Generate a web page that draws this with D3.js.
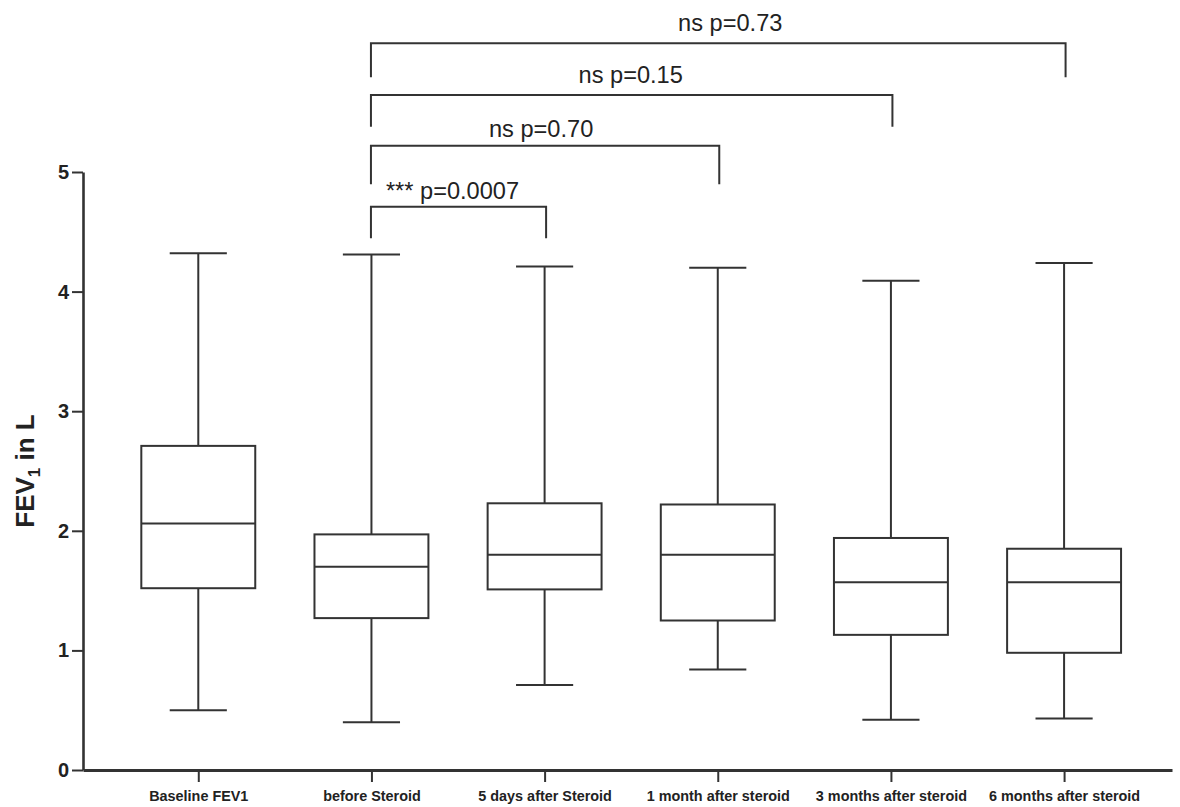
<!DOCTYPE html>
<html>
<head>
<meta charset="utf-8">
<script src="https://cdn.jsdelivr.net/npm/d3@7"></script>
<style>
  html, body { margin: 0; padding: 0; background: #fff; }
  svg { display: block; font-family: "Liberation Sans", Arial, sans-serif; }
</style>
</head>
<body>
<svg id="chart" width="1180" height="807"></svg>
<script>
// FEV1 (litres) at each time point: whisker min, Q1, median, Q3, whisker max
const groups  = ["Baseline FEV1", "before Steroid", "5 days after Steroid",
                 "1 month after steroid", "3 months after steroid", "6 months after steroid"];
const whiskerLow  = [0.50, 0.40, 0.71, 0.84, 0.42, 0.43];
const quartile1   = [1.52, 1.27, 1.51, 1.25, 1.13, 0.98];
const medians     = [2.06, 1.70, 1.80, 1.80, 1.57, 1.57];
const quartile3   = [2.71, 1.97, 2.23, 2.22, 1.94, 1.85];
const whiskerHigh = [4.32, 4.31, 4.21, 4.20, 4.09, 4.24];
const yTicks = [0, 1, 2, 3, 4, 5];

// pairwise comparisons against "before Steroid"
const compareFrom = ["before Steroid", "before Steroid", "before Steroid", "before Steroid"];
const compareTo   = ["5 days after Steroid", "1 month after steroid", "3 months after steroid", "6 months after steroid"];
const compareText = ["*** p=0.0007", "ns p=0.70", "ns p=0.15", "ns p=0.73"];

const boxes = groups.map((g, i) => ({
  group: g, lo: whiskerLow[i], q1: quartile1[i], med: medians[i], q3: quartile3[i], hi: whiskerHigh[i]
}));

const svg = d3.select("#chart");
const ink = "#333";

const x = d3.scalePoint().domain(groups).range([83, 1172]).padding(0.6445).align(0.5165);
const y = d3.scaleLinear().domain([0, 5]).range([770, 172]);
const step = x.step();
const boxW = step * 0.658;
const capW = step * 0.33;

// axes
const yAxis = svg.append("g")
  .attr("transform", "translate(83,0)")
  .call(d3.axisLeft(y).tickValues(yTicks).tickFormat(d3.format("d")).tickSize(11).tickSizeOuter(0).tickPadding(3));
yAxis.select(".domain").attr("stroke", ink).attr("stroke-width", 2.6);
yAxis.selectAll(".tick line").attr("stroke", ink).attr("stroke-width", 2);
yAxis.selectAll(".tick text").attr("fill", "#222").style("font-size", "20px").style("font-weight", "bold");

const xAxis = svg.append("g")
  .attr("transform", "translate(0,770)")
  .call(d3.axisBottom(x).tickSize(12).tickSizeOuter(0).tickPadding(9));
xAxis.select(".domain").attr("stroke", ink).attr("stroke-width", 3);
xAxis.selectAll(".tick line").attr("stroke", ink).attr("stroke-width", 2);
xAxis.selectAll(".tick text").attr("fill", "#222").style("font-size", "14.4px").style("font-weight", "bold");

// y-axis title with subscript
const title = svg.append("text")
  .attr("transform", `translate(34,${(y(0) + y(5)) / 2}) rotate(-90)`)
  .attr("text-anchor", "middle")
  .attr("fill", "#222")
  .style("font-size", "26px").style("font-weight", "bold");
title.append("tspan").text("FEV");
title.append("tspan").attr("dy", 6).style("font-size", "17px").text("1");
title.append("tspan").attr("dy", -6).text(" in L");

// box plots
const g = svg.append("g").attr("fill", "none").attr("stroke", ink).attr("stroke-width", 2);
const b = g.selectAll("g.box").data(boxes).join("g").attr("class", "box");
b.append("line") // upper whisker
  .attr("x1", d => x(d.group)).attr("x2", d => x(d.group))
  .attr("y1", d => y(d.q3)).attr("y2", d => y(d.hi));
b.append("line") // lower whisker
  .attr("x1", d => x(d.group)).attr("x2", d => x(d.group))
  .attr("y1", d => y(d.q1)).attr("y2", d => y(d.lo));
b.append("line") // top cap
  .attr("x1", d => x(d.group) - capW / 2).attr("x2", d => x(d.group) + capW / 2)
  .attr("y1", d => y(d.hi)).attr("y2", d => y(d.hi));
b.append("line") // bottom cap
  .attr("x1", d => x(d.group) - capW / 2).attr("x2", d => x(d.group) + capW / 2)
  .attr("y1", d => y(d.lo)).attr("y2", d => y(d.lo));
b.append("rect")
  .attr("x", d => x(d.group) - boxW / 2).attr("width", boxW)
  .attr("y", d => y(d.q3)).attr("height", d => y(d.q1) - y(d.q3))
  .attr("fill", "#fff");
b.append("line") // median
  .attr("x1", d => x(d.group) - boxW / 2).attr("x2", d => x(d.group) + boxW / 2)
  .attr("y1", d => y(d.med)).attr("y2", d => y(d.med));

// significance brackets, stacked from the shortest upward
const bracketTop = [206.7, 145.7, 95, 43.3];
const bracketLeg = [31.6, 38.6, 31.7, 34];
const textGap = [7.5, 8.5, 12.3, 12.6];
const textShift = [-6, -4, -1, 12];
const br = svg.append("g");
compareText.forEach((t, i) => {
  const x0 = x(compareFrom[i]) - 0.5, x1 = x(compareTo[i]) + 1.5;
  const yt = bracketTop[i];
  br.append("path")
    .attr("d", `M${x0},${yt + bracketLeg[i]}V${yt}H${x1}V${yt + bracketLeg[i]}`)
    .attr("fill", "none").attr("stroke", ink).attr("stroke-width", 2);
  br.append("text")
    .attr("x", (x0 + x1) / 2 + textShift[i]).attr("y", yt - textGap[i])
    .attr("text-anchor", "middle")
    .attr("fill", "#222")
    .style("font-size", "23.6px")
    .text(t);
});
</script>
</body>
</html>
